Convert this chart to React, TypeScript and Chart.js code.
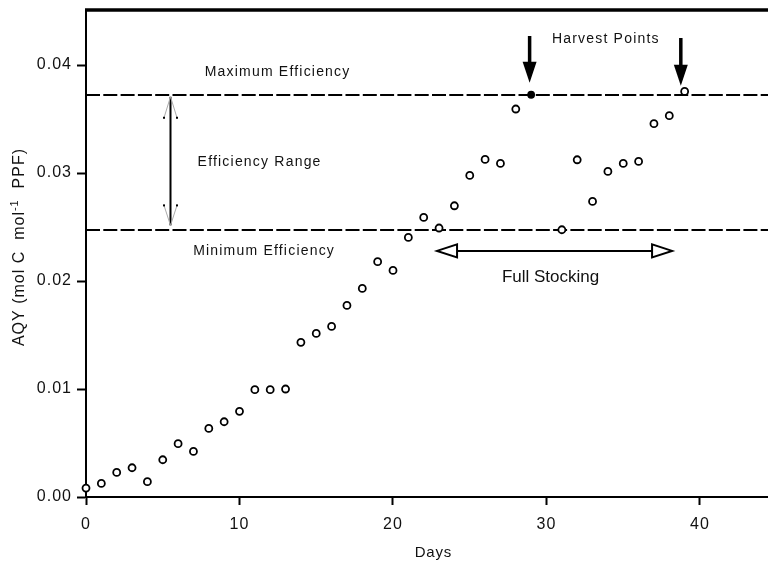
import { useEffect, useRef } from "react";
import { Chart, registerables } from "chart.js";

Chart.register(...registerables);

// Daily apparent quantum yield measurements
const days = [
  0, 1, 2, 3, 4, 5, 6, 7, 8, 9, 10, 11, 12, 13, 14, 15, 16, 17, 18, 19, 20,
  21, 22, 23, 24, 25, 26, 27, 28, 29, 31, 32, 33, 34, 35, 36, 37, 38, 39,
];
const aqy = [
  0.00083, 0.00126, 0.00228, 0.00271, 0.00142, 0.00345, 0.00494, 0.00422,
  0.00635, 0.00697, 0.00793, 0.00994, 0.00994, 0.01, 0.01432, 0.01515,
  0.0158, 0.01774, 0.01932, 0.02179, 0.02098, 0.02404, 0.02589, 0.02491,
  0.02697, 0.02978, 0.03126, 0.03089, 0.03593, 0.03725, 0.02475, 0.03123,
  0.02737, 0.03015, 0.03089, 0.03108, 0.03457, 0.03531, 0.03756,
];
// Day whose measurement is shown as a solid dot
const filledDays = [29];

const maxEfficiency = 0.03725;
const minEfficiency = 0.02469;
const harvestDays = [28.9, 38.75];
const fullStockingDays = [22.87, 38.18];
const rangeArrowDay = 5.47;

const xTicks = [0, 10, 20, 30, 40];
const yTicks = [0, 0.01, 0.02, 0.03, 0.04];

const FONT = "'Liberation Sans', Arial, Helvetica, sans-serif";

function drawText(
  ctx: CanvasRenderingContext2D,
  text: string,
  x: number,
  y: number,
  size: number,
  spacing = 0
) {
  ctx.save();
  ctx.font = `${size}px ${FONT}`;
  (ctx as any).letterSpacing = `${spacing}px`;
  ctx.fillStyle = "#111";
  ctx.textAlign = "center";
  ctx.textBaseline = "middle";
  ctx.fillText(text, x + spacing / 2, y);
  ctx.restore();
}

const annotations = {
  id: "annotations",
  beforeDraw(chart: any) {
    (chart.ctx as any).letterSpacing = "1px";
  },
  beforeDatasetsDraw(chart: any) {
    const { ctx, chartArea, scales } = chart;
    const y = scales.y;
    ctx.save();
    ctx.strokeStyle = "#000";
    ctx.lineWidth = 2;
    ctx.setLineDash([14, 3.3]);
    for (const level of [maxEfficiency, minEfficiency]) {
      const py = Math.round(y.getPixelForValue(level));
      ctx.beginPath();
      ctx.moveTo(chartArea.left, py);
      ctx.lineTo(chartArea.right, py);
      ctx.stroke();
    }
    ctx.restore();
  },
  afterDraw(chart: any) {
    const { ctx, chartArea, scales } = chart;
    const x = scales.x;
    const y = scales.y;
    ctx.save();
    ctx.setLineDash([]);

    // heavy top frame line
    ctx.strokeStyle = "#000";
    ctx.lineWidth = 3.5;
    ctx.beginPath();
    ctx.moveTo(chartArea.left - 1, chartArea.top);
    ctx.lineTo(chartArea.right, chartArea.top);
    ctx.stroke();

    // efficiency range double arrow
    const rx = Math.round(x.getPixelForValue(rangeArrowDay)) + 0.5;
    const topTip = y.getPixelForValue(maxEfficiency) + 2;
    const botTip = y.getPixelForValue(minEfficiency) - 5;
    ctx.lineWidth = 2;
    ctx.strokeStyle = "#000";
    ctx.beginPath();
    ctx.moveTo(rx, topTip);
    ctx.lineTo(rx, botTip);
    ctx.stroke();
    ctx.lineWidth = 1;
    ctx.strokeStyle = "#aaa";
    ctx.beginPath();
    ctx.moveTo(rx - 6.5, topTip + 21);
    ctx.lineTo(rx, topTip);
    ctx.lineTo(rx + 6.5, topTip + 21);
    ctx.moveTo(rx - 6.5, botTip - 20);
    ctx.lineTo(rx, botTip);
    ctx.lineTo(rx + 6.5, botTip - 20);
    ctx.stroke();
    ctx.fillStyle = "#000";
    for (const [dx, dy] of [
      [-6.5, topTip + 21],
      [6.5, topTip + 21],
      [-6.5, botTip - 20],
      [6.5, botTip - 20],
    ]) {
      ctx.fillRect(rx + dx - 1, dy - 1, 2, 2);
    }

    // harvest arrows
    ctx.fillStyle = "#000";
    ctx.strokeStyle = "#000";
    harvestDays.forEach((d, i) => {
      const hx = x.getPixelForValue(d);
      const top = 36 + i * 2;
      const tip = y.getPixelForValue(maxEfficiency) - 12 + i * 3;
      const base = tip - 21;
      ctx.lineWidth = 3.5;
      ctx.beginPath();
      ctx.moveTo(hx, top);
      ctx.lineTo(hx, base + 1);
      ctx.stroke();
      ctx.beginPath();
      ctx.moveTo(hx - 7, base);
      ctx.lineTo(hx + 7, base);
      ctx.lineTo(hx, tip);
      ctx.closePath();
      ctx.fill();
    });

    // full stocking double arrow with open heads
    const fy = y.getPixelForValue(minEfficiency) + 20.5;
    const fx1 = x.getPixelForValue(fullStockingDays[0]);
    const fx2 = x.getPixelForValue(fullStockingDays[1]);
    ctx.lineWidth = 2;
    ctx.beginPath();
    ctx.moveTo(fx1 + 20, fy);
    ctx.lineTo(fx2 - 20, fy);
    ctx.stroke();
    ctx.fillStyle = "#fff";
    ctx.beginPath();
    ctx.moveTo(fx1, fy);
    ctx.lineTo(fx1 + 20, fy - 6.5);
    ctx.lineTo(fx1 + 20, fy + 6.5);
    ctx.closePath();
    ctx.fill();
    ctx.stroke();
    ctx.beginPath();
    ctx.moveTo(fx2, fy);
    ctx.lineTo(fx2 - 20, fy - 6.5);
    ctx.lineTo(fx2 - 20, fy + 6.5);
    ctx.closePath();
    ctx.fill();
    ctx.stroke();

    // labels
    const maxPx = y.getPixelForValue(maxEfficiency);
    const minPx = y.getPixelForValue(minEfficiency);
    drawText(ctx, "Maximum Efficiency", 277, maxPx - 23, 14, 1.2);
    drawText(ctx, "Efficiency Range", 259, (maxPx + minPx) / 2, 14, 1.2);
    drawText(ctx, "Minimum Efficiency", 263.5, minPx + 21, 14, 1.2);
    drawText(
      ctx,
      "Harvest Points",
      (x.getPixelForValue(harvestDays[0]) + x.getPixelForValue(harvestDays[1])) / 2,
      39,
      14,
      1.2
    );
    drawText(ctx, "Full Stocking", (fx1 + fx2) / 2 - 4, fy + 26, 17, 0);

    // axis titles
    drawText(ctx, "Days", (chartArea.left + chartArea.right) / 2 + 6, 553, 15, 0.8);

    ctx.save();
    ctx.translate(20, 247);
    ctx.rotate(-Math.PI / 2);
    ctx.fillStyle = "#111";
    ctx.textBaseline = "middle";
    (ctx as any).letterSpacing = "1px";
    const main = `${16}px ${FONT}`;
    const sup = `${11}px ${FONT}`;
    const parts: [string, string, number][] = [
      ["AQY (mol C  mol", main, 0],
      ["-1", sup, -5],
      ["  PPF)", main, 0],
    ];
    let total = 0;
    for (const [t, f] of parts) {
      ctx.font = f;
      total += ctx.measureText(t).width;
    }
    let cx = -total / 2;
    ctx.textAlign = "left";
    for (const [t, f, dy] of parts) {
      ctx.font = f;
      ctx.fillText(t, cx, dy);
      cx += ctx.measureText(t).width;
    }
    ctx.restore();

    ctx.restore();
  },
};

export default function App() {
  const canvasRef = useRef<HTMLCanvasElement | null>(null);

  useEffect(() => {
    const canvas = canvasRef.current;
    if (!canvas) return;
    const points = days.map((d, i) => ({ x: d, y: aqy[i] }));
    const fills = days.map((d) => (filledDays.includes(d) ? "#000" : "#fff"));
    const radii = days.map((d) => (filledDays.includes(d) ? 3 : 3.5));

    const chart = new Chart(canvas, {
      type: "scatter",
      data: {
        datasets: [
          {
            data: points,
            pointStyle: "circle",
            pointRadius: radii,
            pointBackgroundColor: fills,
            pointBorderColor: "#000",
            pointBorderWidth: 1.8,
            showLine: false,
            clip: false,
          },
        ],
      },
      options: {
        responsive: false,
        animation: false,
        layout: {
          autoPadding: false,
          padding: { top: 10, right: 0, left: 0, bottom: 0 },
        },
        plugins: {
          legend: { display: false },
          tooltip: { enabled: false },
        },
        scales: {
          x: {
            type: "linear",
            min: 0,
            max: 44.43,
            afterBuildTicks: (s: any) => {
              s.ticks = xTicks.map((v) => ({ value: v }));
            },
            afterFit: (s: any) => {
              s.height = 67;
              s.paddingLeft = 0;
              s.paddingRight = 0;
            },
            grid: {
              drawOnChartArea: false,
              drawTicks: true,
              tickLength: 8,
              tickWidth: 2,
              color: "#000",
            },
            border: { display: true, color: "#000", width: 2 },
            ticks: {
              color: "#111",
              font: { family: FONT, size: 16 },
              padding: 10,
              maxRotation: 0,
              callback: (v: any) => String(v),
            },
          },
          y: {
            type: "linear",
            min: 0,
            max: 0.0451,
            afterBuildTicks: (s: any) => {
              s.ticks = yTicks.map((v) => ({ value: v }));
            },
            afterFit: (s: any) => {
              s.width = 86;
              s.paddingTop = 0;
              s.paddingBottom = 0;
            },
            grid: {
              drawOnChartArea: false,
              drawTicks: true,
              tickLength: 9,
              tickWidth: 2,
              color: "#000",
            },
            border: { display: true, color: "#000", width: 2 },
            ticks: {
              color: "#111",
              font: { family: FONT, size: 16 },
              padding: 5,
              callback: (v: any) => Number(v).toFixed(2),
            },
          },
        },
      },
      plugins: [annotations],
    });
    return () => chart.destroy();
  }, []);

  return (
    <div
      style={{
        position: "absolute",
        left: 0,
        top: 0,
        width: 768,
        height: 564,
        background: "#fff",
      }}
    >
      <canvas ref={canvasRef} width={768} height={564} />
    </div>
  );
}
